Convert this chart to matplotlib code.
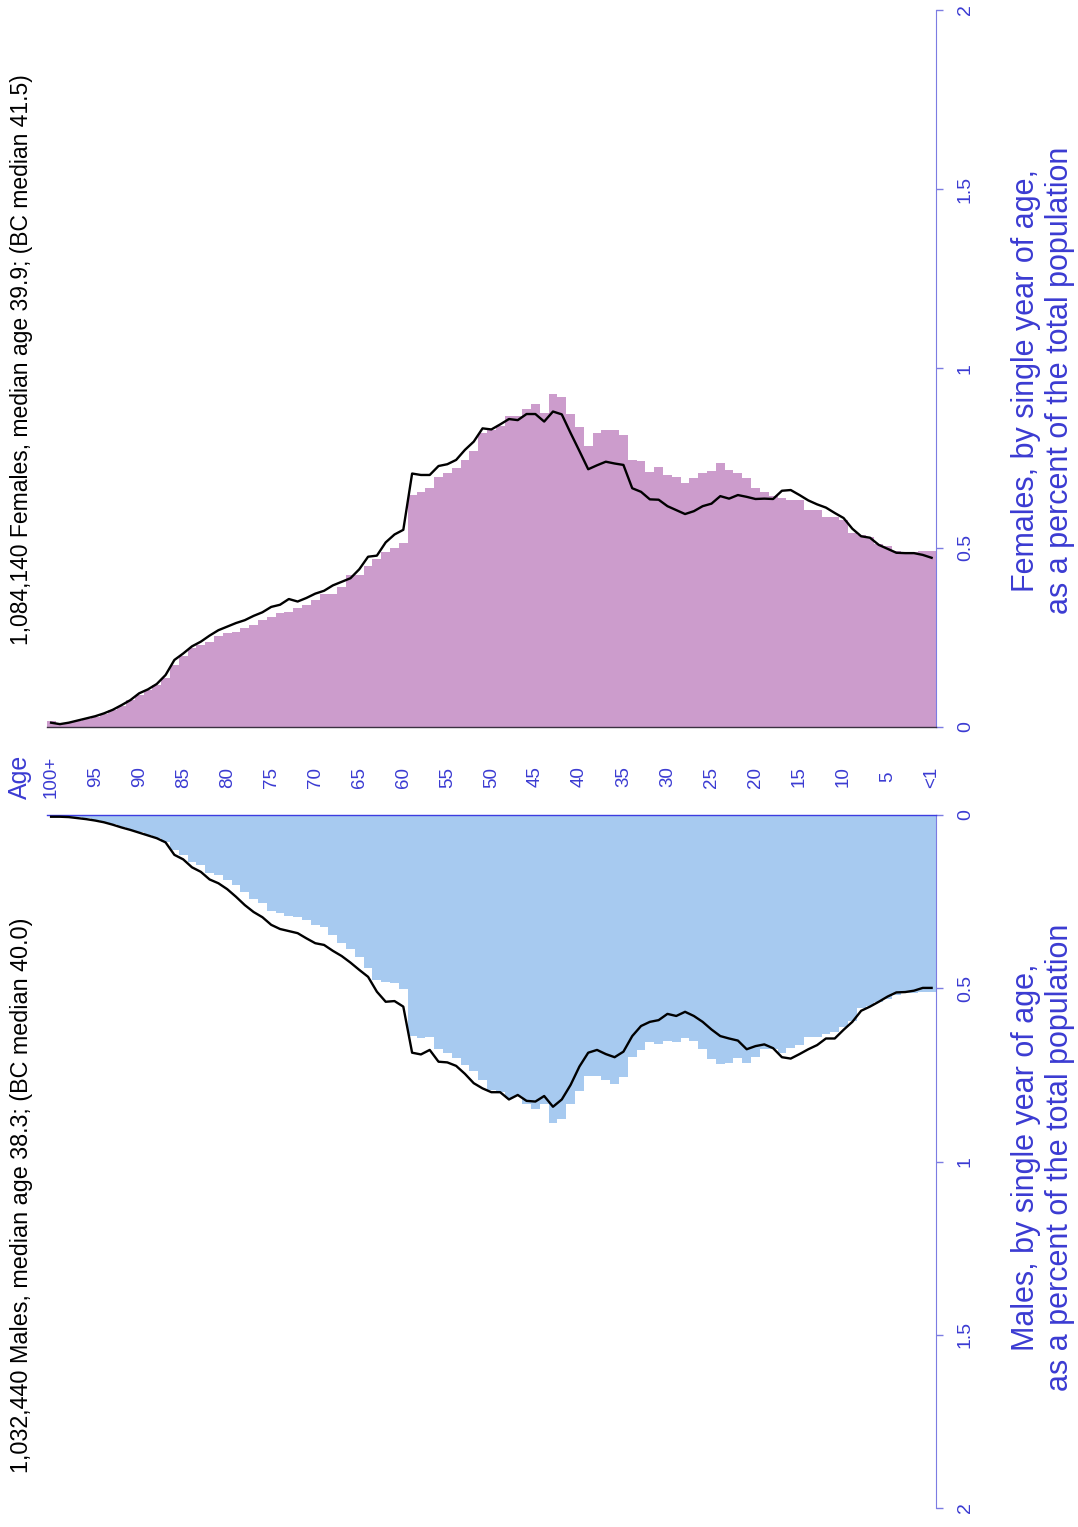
import matplotlib.pyplot as plt
import matplotlib.transforms as mtransforms
import numpy as np

plt.rcParams['font.family'] = ['Liberation Sans', 'DejaVu Sans']

# ages 0 .. 100 (100 = 100+)
ages = np.arange(0, 101)

# percent of total population (age 0 first)
female_pct = [
    0.49, 0.49, 0.488, 0.488, 0.49, 0.505, 0.51, 0.53, 0.535, 0.54,
    0.577, 0.586, 0.586, 0.605, 0.605, 0.633, 0.633, 0.64, 0.645, 0.655,
    0.667, 0.694, 0.708, 0.717, 0.737, 0.714, 0.708, 0.695, 0.68, 0.698,
    0.703, 0.725, 0.712, 0.742, 0.745, 0.815, 0.828, 0.828, 0.82, 0.784,
    0.837, 0.873, 0.92, 0.928, 0.875, 0.90, 0.887, 0.868, 0.868, 0.84,
    0.828, 0.82, 0.77, 0.745, 0.722, 0.708, 0.698, 0.667, 0.656, 0.647,
    0.513, 0.50, 0.488, 0.47, 0.45, 0.425, 0.425, 0.39, 0.37, 0.37,
    0.355, 0.34, 0.333, 0.32, 0.318, 0.307, 0.298, 0.285, 0.276, 0.265,
    0.262, 0.254, 0.237, 0.229, 0.22, 0.198, 0.173, 0.137, 0.117, 0.103,
    0.089, 0.075, 0.059, 0.047, 0.036, 0.028, 0.022, 0.017, 0.011, 0.008,
    0.016,
]
male_pct = [
    0.511, 0.511, 0.514, 0.514, 0.519, 0.531, 0.54, 0.55, 0.557, 0.594,
    0.611, 0.625, 0.632, 0.641, 0.641, 0.664, 0.673, 0.686, 0.675, 0.675,
    0.697, 0.716, 0.701, 0.717, 0.719, 0.704, 0.675, 0.651, 0.645, 0.656,
    0.652, 0.661, 0.654, 0.678, 0.697, 0.756, 0.776, 0.765, 0.753, 0.753,
    0.796, 0.834, 0.878, 0.888, 0.834, 0.849, 0.834, 0.812, 0.817, 0.80,
    0.795, 0.765, 0.739, 0.721, 0.701, 0.686, 0.675, 0.64, 0.644, 0.638,
    0.502, 0.485, 0.481, 0.476, 0.442, 0.409, 0.388, 0.368, 0.346, 0.324,
    0.317, 0.303, 0.295, 0.291, 0.284, 0.276, 0.254, 0.243, 0.221, 0.202,
    0.188, 0.173, 0.166, 0.144, 0.136, 0.115, 0.101, 0.078, 0.066, 0.058,
    0.05, 0.043, 0.034, 0.026, 0.02, 0.014, 0.01, 0.007, 0.005, 0.003,
    0.004,
]

# BC comparison lines
female_bc = [
    0.472, 0.48, 0.485, 0.485, 0.486, 0.497, 0.508, 0.528, 0.532, 0.553,
    0.583, 0.597, 0.612, 0.621, 0.632, 0.647, 0.661, 0.659, 0.636, 0.637,
    0.636, 0.642, 0.647, 0.637, 0.644, 0.623, 0.616, 0.602, 0.594, 0.605,
    0.616, 0.634, 0.635, 0.656, 0.666, 0.731, 0.735, 0.74, 0.73, 0.719,
    0.77, 0.82, 0.872, 0.88, 0.852, 0.873, 0.873, 0.856, 0.859, 0.844,
    0.83, 0.833, 0.796, 0.773, 0.745, 0.733, 0.728, 0.703, 0.703, 0.707,
    0.55, 0.537, 0.515, 0.478, 0.475, 0.44, 0.415, 0.405, 0.395, 0.38,
    0.372, 0.36, 0.35, 0.357, 0.341, 0.335, 0.32, 0.31, 0.298, 0.29,
    0.28, 0.27, 0.255, 0.238, 0.225, 0.205, 0.187, 0.145, 0.12, 0.105,
    0.094, 0.075, 0.061, 0.048, 0.038, 0.03, 0.024, 0.018, 0.012, 0.008,
    0.012,
]
male_bc = [
    0.499, 0.499, 0.507, 0.511, 0.512, 0.524, 0.539, 0.553, 0.565, 0.597,
    0.62, 0.645, 0.645, 0.664, 0.676, 0.69, 0.703, 0.699, 0.673, 0.662,
    0.667, 0.676, 0.651, 0.645, 0.638, 0.619, 0.597, 0.58, 0.568, 0.58,
    0.574, 0.592, 0.597, 0.609, 0.638, 0.683, 0.699, 0.69, 0.678, 0.686,
    0.726, 0.779, 0.821, 0.842, 0.811, 0.827, 0.825, 0.808, 0.821, 0.80,
    0.80, 0.789, 0.774, 0.747, 0.724, 0.714, 0.712, 0.678, 0.691, 0.686,
    0.553, 0.537, 0.539, 0.51, 0.467, 0.447, 0.426, 0.407, 0.392, 0.375,
    0.37, 0.356, 0.341, 0.335, 0.329, 0.317, 0.295, 0.28, 0.26, 0.236,
    0.214, 0.197, 0.186, 0.164, 0.151, 0.128, 0.115, 0.079, 0.067, 0.059,
    0.051, 0.043, 0.036, 0.028, 0.021, 0.016, 0.012, 0.009, 0.006, 0.005,
    0.005,
]

age_ticks = [100, 95, 90, 85, 80, 75, 70, 65, 60, 55, 50, 45, 40, 35, 30, 25, 20, 15, 10, 5, 0]
age_labels = ['100+', '95', '90', '85', '80', '75', '70', '65', '60', '55', '50',
              '45', '40', '35', '30', '25', '20', '15', '10', '5', '<1']
pct_ticks = [0, 0.5, 1, 1.5, 2]
pct_labels = ['0', '0.5', '1', '1.5', '2']

female_title = '1,084,140 Females, median age 39.9; (BC median 41.5)'
male_title = '1,032,440 Males, median age 38.3; (BC median 40.0)'

blue_text = '#3b3bd2'
blue_axis = '#7c7ce2'
female_col = '#cc9ccc'
male_col = '#a7caf0'

W, H = 1078, 1527
fig = plt.figure(figsize=(W / 100, H / 100), dpi=100)

x0, x1 = 46.7, 936
axF = fig.add_axes([x0 / W, 1 - 727 / H, (x1 - x0) / W, (727 - 10) / H])
axM = fig.add_axes([x0 / W, 1 - 1508 / H, (x1 - x0) / W, (1508 - 815) / H])

# females on top, growing upward
axF.bar(ages, female_pct, width=1.0, color=female_col, linewidth=0, zorder=1)
axF.plot(ages, female_bc, color='black', lw=1.7, zorder=3)
axF.set_ylim(0, 2)

# males below, growing downward
axM.bar(ages, male_pct, width=1.0, color=male_col, linewidth=0, zorder=1)
axM.plot(ages, male_bc, color='black', lw=1.7, zorder=3)
axM.set_ylim(2, 0)

for ax, base, col in [(axF, 'bottom', '#3a3040'), (axM, 'top', '#3c3ce0')]:
    ax.set_xlim(100.5, -0.5)
    for s in ['left', 'top', 'bottom']:
        ax.spines[s].set_visible(False)
    ax.spines[base].set_visible(True)
    ax.spines[base].set_color(col)
    ax.spines[base].set_linewidth(1.0)
    ax.spines['right'].set_color(blue_axis)
    ax.set_xticks([])
    ax.yaxis.tick_right()
    ax.set_yticks(pct_ticks)
    ax.set_yticklabels(pct_labels)
    ax.tick_params(axis='y', length=5, width=1, color=blue_axis, labelcolor=blue_text,
                   labelsize=14, pad=10)
    for t in ax.get_yticklabels():
        t.set_rotation(90)
        t.set_va('center')

# right side axis titles
fig.text(1043 / W, 1 - 380 / H,
         'Females, by single year of age,\nas a percent of the total population',
         rotation=90, ha='center', va='center', multialignment='center',
         color=blue_text, fontsize=22, linespacing=1.2)
fig.text(1043 / W, 1 - 1157 / H,
         'Males, by single year of age,\nas a percent of the total population',
         rotation=90, ha='center', va='center', multialignment='center',
         color=blue_text, fontsize=22, linespacing=1.2)

# left side titles
fig.text(22 / W, 1 - 360 / H, female_title, rotation=90, ha='center', va='center',
         fontsize=16.5, color='black')
fig.text(22 / W, 1 - 1195 / H, male_title, rotation=90, ha='center', va='center',
         fontsize=16.8, color='black')

# age labels between the two panels
trans = mtransforms.blended_transform_factory(axF.transData, fig.transFigure)
for a, lab in zip(age_ticks, age_labels):
    axF.text(a, 1 - 777 / H, lab, transform=trans, rotation=90, ha='center', va='center',
             fontsize=13.5, color=blue_text, clip_on=False)
fig.text(20 / W, 1 - 777 / H, 'Age', rotation=90, ha='center', va='center',
         fontsize=18, color=blue_text)

fig.savefig('out.png', dpi=100)
